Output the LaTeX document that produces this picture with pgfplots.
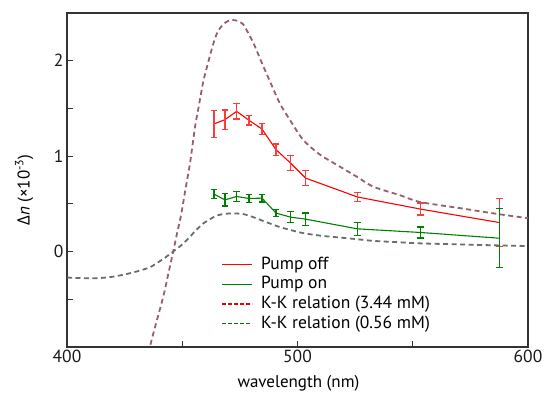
\documentclass[border=0pt]{standalone}
\usepackage{fontspec}
\setmainfont{PT Sans}
\newfontfamily\grk{Open Sans}
\usepackage{pgfplots}
\pgfplotsset{compat=1.18}
\definecolor{pon}{RGB}{0,128,0}
\definecolor{perr}{RGB}{250,60,60}
\definecolor{kkred}{RGB}{150,95,105}
\definecolor{kkgray}{RGB}{100,112,105}
\definecolor{kkleggreen}{RGB}{0,110,0}
\definecolor{kklegred}{RGB}{235,0,0}
\begin{document}
\begin{tikzpicture}
\begin{axis}[
  scale only axis, width=461bp, height=334bp,
  xmin=400, xmax=600, ymin=-1, ymax=2.5,
  axis line style={line width=1.1bp, black!80},
  tick align=inside, tick pos=left,
  major tick length=6bp,
  tick style={line width=1bp, black!80},
  xtick={400,450,500,550,600}, xticklabels={400,,500,,600},
  ytick={-0.5,0,0.5,1,1.5,2}, yticklabels={,0,,1,,2},
  ticklabel style={font=\fontsize{17.5bp}{20bp}\selectfont, text=black!90},
  xlabel={wavelength (nm)},
  xlabel style={font=\fontsize{17bp}{20bp}\selectfont, at={(axis description cs:0.502,-0.108)}, anchor=center},
  ylabel={{\grk Δ}\textit{n} (×10\textsuperscript{-3})},
  ylabel style={font=\fontsize{17bp}{20bp}\selectfont, at={(axis description cs:-0.093,0.47)}, anchor=center},
  legend style={at={(rel axis cs:0.335,0.275)}, anchor=north west, draw=none, fill=none,
    font=\fontsize{17.5bp}{20bp}\selectfont, inner sep=0pt, row sep=0.6bp,
    nodes={inner sep=1bp, text height=13bp, text depth=4bp},
    /tikz/every odd column/.append style={column sep=7bp}},
  legend cell align=left,
  legend image code/.code={\draw[#1] (0bp,0bp) -- (30bp,0bp);},
]
\addlegendimage{draw=red, line width=1.1bp}
\addlegendentry{Pump off}
\addlegendimage{draw=pon, line width=1.1bp}
\addlegendentry{Pump on}
\addlegendimage{draw=kklegred, line width=1.6bp, dash pattern=on 3.5bp off 2.5bp}
\addlegendentry{K-K relation (3.44 mM)}
\addlegendimage{draw=kkleggreen, line width=1.2bp, dash pattern=on 3.5bp off 2.5bp}
\addlegendentry{K-K relation (0.56 mM)}

% K-K relation 3.44 mM
\addplot[kkred, line width=1.8bp, dash pattern=on 5bp off 3.5bp, smooth, forget plot] coordinates {
(434.7,-1.24) (436.0,-1.00) (439.0,-0.72) (441.8,-0.47) (443.8,-0.25) (445.9,-0.02)
(447.7,0.186) (449.5,0.385) (451.2,0.626) (453.4,0.931) (455.5,1.298) (457.3,1.54)
(459.1,1.78) (460.9,1.95) (463.5,2.18) (465.5,2.31) (467.8,2.38) (469.8,2.415)
(472.1,2.426) (474.2,2.415) (476.5,2.38) (478.5,2.295) (480.8,2.19) (482.9,2.07)
(485.2,1.94) (488.1,1.78) (492.4,1.55) (496.7,1.38) (502.5,1.17) (509.8,1.015)
(517.0,0.91) (525.7,0.785) (532.9,0.68) (544.5,0.59) (553.1,0.52) (570.5,0.455)
(587.9,0.39) (600,0.35)
};
% K-K relation 0.56 mM
\addplot[kkgray, line width=1.8bp, dash pattern=on 5bp off 3.5bp, smooth, forget plot] coordinates {
(400,-0.272) (405,-0.277) (410,-0.28) (415,-0.276) (420,-0.263) (425,-0.24) (430,-0.21)
(436.0,-0.165) (439.0,-0.119) (441.8,-0.078) (443.8,-0.041) (445.9,-0.003)
(447.7,0.031) (449.5,0.064) (451.2,0.103) (453.4,0.154) (455.5,0.214) (457.3,0.254)
(459.1,0.294) (460.9,0.322) (463.5,0.360) (465.5,0.381) (467.8,0.393) (469.8,0.398)
(472.1,0.400) (474.2,0.398) (476.5,0.393) (478.5,0.379) (480.8,0.361) (482.9,0.342)
(485.2,0.320) (488.1,0.294) (492.4,0.256) (496.7,0.228) (502.5,0.193) (509.8,0.167)
(517.0,0.150) (525.7,0.130) (532.9,0.112) (544.5,0.097) (553.1,0.086) (570.5,0.075)
(587.9,0.064) (600,0.058)
};
% Pump off
\addplot[red, line width=1.1bp, mark=none, forget plot,
  error bars/.cd, y dir=both, y explicit,
  error bar style={perr, line width=1.4bp},
  error mark options={rotate=90, perr, mark size=3.3bp, line width=1.3bp}]
coordinates {
(463.8,1.337) +- (0,0.14)
(468.5,1.382) +- (0,0.10)
(473.6,1.469) +- (0,0.08)
(479.0,1.375) +- (0,0.05)
(484.6,1.284) +- (0,0.055)
(490.7,1.067) +- (0,0.06)
(497.0,0.927) +- (0,0.077)
(503.5,0.770) +- (0,0.08)
(526.0,0.572) +- (0,0.044)
(553.4,0.445) +- (0,0.063)
(587.6,0.304) +- (0,0.25)
};
% Pump on
\addplot[pon, line width=1.1bp, mark=none, forget plot,
  error bars/.cd, y dir=both, y explicit,
  error bar style={pon, line width=1.4bp},
  error mark options={rotate=90, pon, mark size=3.3bp, line width=1.3bp}]
coordinates {
(463.8,0.602) +- (0,0.047)
(468.5,0.542) +- (0,0.063)
(473.6,0.577) +- (0,0.05)
(479.0,0.556) +- (0,0.04)
(484.6,0.560) +- (0,0.04)
(490.7,0.403) +- (0,0.038)
(497.0,0.361) +- (0,0.06)
(503.5,0.340) +- (0,0.065)
(526.0,0.238) +- (0,0.066)
(553.4,0.200) +- (0,0.058)
(587.6,0.140) +- (0,0.31)
};
\end{axis}
\pgfresetboundingbox
\path ([shift={(-67bp,-48bp)}]current axis.south west) rectangle ([shift={(17bp,13bp)}]current axis.north east);
\end{tikzpicture}
\end{document}
